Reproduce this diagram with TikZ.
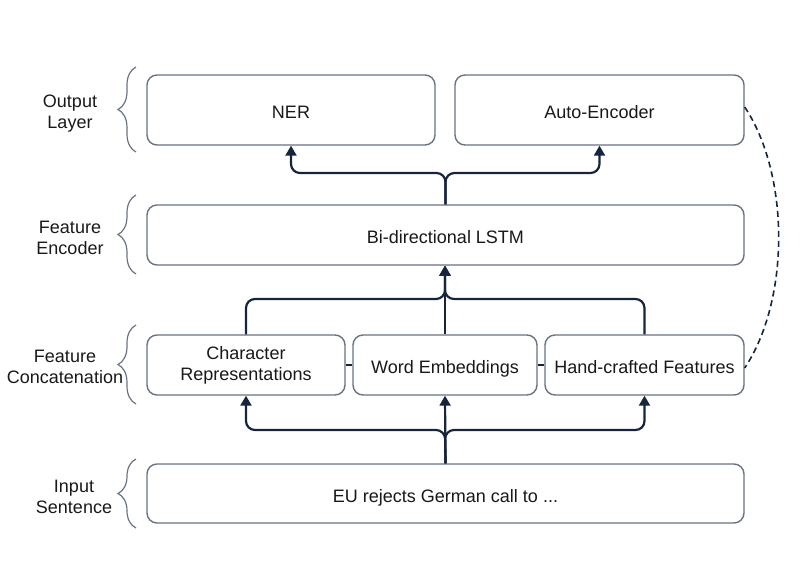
\documentclass[tikz,border=0pt]{standalone}
\usepackage{fontspec}
\setmainfont{Liberation Sans}
\usetikzlibrary{arrows.meta,decorations.pathreplacing}
\definecolor{boxline}{RGB}{105,115,130}
\definecolor{arrcol}{RGB}{22,36,60}
\definecolor{txt}{RGB}{25,25,25}
\begin{document}
\begin{tikzpicture}[x=1pt,y=-1pt,
  box/.style={draw=boxline, line width=1.4pt, rounded corners=10pt, fill=white, text=txt, font=\fontsize{18}{21}\selectfont, align=center, inner sep=0pt},
  one/.style={text height=17pt, text depth=0pt},
  arr/.style={draw=arrcol, line width=2.2pt, rounded corners=9pt, -{Triangle[width=11pt,length=10pt]}},
  link/.style={draw=arrcol, line width=2.2pt},
  lbl/.style={text=txt, font=\fontsize{18}{21}\selectfont, align=center},
  brc/.style={draw=boxline, line width=1.2pt, decorate, decoration={brace, amplitude=18pt}}
]
\useasboundingbox (0,0) rectangle (804,582);
% boxes
\node[box, one, minimum width=288pt, minimum height=70pt] (ner) at (291,110) {NER};
\node[box, one, minimum width=289pt, minimum height=70pt] (ae) at (599.5,110) {Auto-Encoder};
\node[box, one, minimum width=597pt, minimum height=60pt] (lstm) at (445.5,235) {Bi-directional LSTM};
\node[box, minimum width=198pt, minimum height=60pt] (char) at (246,365) {Character\\Representations};
\node[box, one, minimum width=184pt, minimum height=60pt] (word) at (445,365) {Word Embeddings};
\node[box, one, minimum width=199pt, minimum height=60pt] (hand) at (644.5,365) {Hand-crafted Features};
\node[box, one, minimum width=597pt, minimum height=59pt] (inp) at (445.5,493.5) {EU rejects German call to ...};
% junction coordinates
\coordinate (jt) at (445.5,173);
\coordinate (jm) at (445,299);
\coordinate (jb) at (445,430);
% output arrows
\draw[arr] (lstm.north) -- (jt) -| (ner.south);
\draw[arr] (lstm.north) -- (jt) -| (ae.south);
% concat to lstm
\draw[arr] (char.north) |- (jm) -- (jm |- lstm.south);
\draw[arr] (hand.north) |- (jm) -- (jm |- lstm.south);
\draw[arr] (word.north) -- (word.north |- lstm.south);
% input to concat
\draw[arr] (inp.north) -- (jb) -| (char.south);
\draw[arr] (inp.north) -- (jb) -| (hand.south);
\draw[arr] (inp.north) -- (word.south);
% small links between concat boxes
\draw[link] (char.east) -- (word.west);
\draw[link] (word.east) -- (hand.west);
% dashed curve
\coordinate (ds) at ([yshift=3pt]ae.east);
\coordinate (de) at ([yshift=-3pt]hand.east);
\draw[draw=arrcol, line width=1.6pt, dash pattern=on 6pt off 4pt] (ds) .. controls (790,175) and (790,300) .. (de);
% braces and labels
\draw[brc] (136,152) -- (136,67);
\node[lbl] (l1) at (70,114) {Output\\Layer};
\draw[brc] (136,274) -- (136,195);
\node[lbl] (l2) at (70,238) {Feature\\Encoder};
\draw[brc] (136,404) -- (136,325);
\node[lbl] (l3) at (65,367) {Feature\\Concatenation};
\draw[brc] (136,528) -- (136,459);
\node[lbl] (l4) at (74,497) {Input\\Sentence};
\end{tikzpicture}
\end{document}
